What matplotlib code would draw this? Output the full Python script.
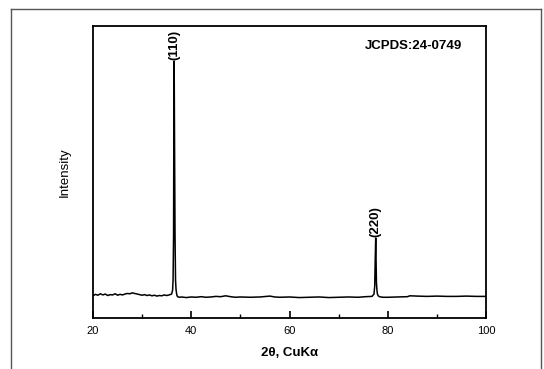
import matplotlib.pyplot as plt
from matplotlib.lines import Line2D
from matplotlib.ticker import MultipleLocator

plt.rcParams["font.family"] = ["Liberation Sans", "DejaVu Sans"]

# XRD trace (2theta in degrees, intensity in arbitrary units)
two_theta = [
    20.0, 20.5, 21.0, 21.5, 22.0, 22.5, 23.0, 23.5, 24.0, 24.5,
    25.0, 25.5, 26.0, 26.5, 27.0, 27.5, 28.0, 28.5, 29.0, 29.5,
    30.0, 30.5, 31.0, 31.5, 32.0, 32.5, 33.0, 33.5, 34.0, 34.5,
    35.0, 35.5, 36.0, 36.2, 36.3, 36.4, 36.45, 36.52, 36.6, 36.7,
    36.8, 36.9, 37.05, 37.2, 37.6, 38.0, 39.0, 40.0, 41.0, 42.0,
    43.0, 44.0, 45.0, 46.0, 47.0, 48.0, 49.0, 50.0, 52.0, 54.0,
    56.0, 57.0, 58.0, 60.0, 62.0, 64.0, 66.0, 68.0, 70.0, 72.0,
    74.0, 75.5, 76.8, 77.2, 77.35, 77.45, 77.55, 77.62, 77.7, 77.8,
    77.9, 78.05, 78.3, 78.7, 79.0, 80.0, 82.0, 84.0, 84.5, 86.0,
    88.0, 90.0, 92.0, 94.0, 96.0, 98.0, 100.0,
]
intensity = [
    7.6, 8.1, 7.8, 8.3, 7.9, 8.2, 7.7, 8.0, 7.9, 8.3,
    7.8, 8.1, 7.9, 8.2, 8.4, 8.3, 8.6, 8.4, 8.2, 8.0,
    7.8, 8.0, 7.7, 7.9, 7.6, 7.8, 7.5, 7.7, 7.6, 7.9,
    7.7, 7.9, 8.2, 9.5, 13.0, 28.0, 62.0, 88.0, 60.0, 28.0,
    13.0, 9.8, 8.0, 7.3, 7.1, 7.2, 7.0, 7.2, 7.1, 7.3,
    7.1, 7.2, 7.4, 7.3, 7.6, 7.3, 7.1, 7.2, 7.1, 7.2,
    7.5, 7.2, 7.1, 7.2, 7.0, 7.1, 7.2, 7.0, 7.1, 7.2,
    7.1, 7.3, 7.4, 8.2, 11.0, 20.0, 27.4, 20.0, 12.0, 9.5,
    8.2, 7.6, 7.3, 7.2, 7.1, 7.1, 7.2, 7.3, 7.6, 7.5,
    7.4, 7.5, 7.4, 7.4, 7.5, 7.4, 7.4,
]

peak_labels = ["(110)", "(220)"]
peak_pos = [36.52, 77.55]
peak_top = [88.0, 27.4]

fig = plt.figure(figsize=(5.44, 3.69), dpi=100)
ax = fig.add_axes([93 / 544, 1 - 318 / 369, 393 / 544, 292 / 369])

ax.plot(two_theta, intensity, color="black", lw=1.1)
ax.set_xlim(20, 100)
ax.set_ylim(0, 100)

for lab, x, y in zip(peak_labels, peak_pos, peak_top):
    ax.text(x, y + 0.5, lab, rotation=90, ha="center", va="bottom",
            fontsize=9.5, fontweight="bold")

ax.text(0.94, 0.93, "JCPDS:24-0749", transform=ax.transAxes, ha="right",
        va="center", fontsize=9.5, fontweight="bold")

ax.xaxis.set_major_locator(MultipleLocator(20))
ax.xaxis.set_minor_locator(MultipleLocator(10))
ax.tick_params(axis="x", which="major", direction="in", length=5, width=1.2,
               labelsize=8, pad=6)
ax.tick_params(axis="x", which="minor", direction="in", length=3, width=1.0)
ax.set_yticks([])
for s in ax.spines.values():
    s.set_linewidth(1.3)

ax.set_xlabel("2θ, CuKα", fontsize=9.5, fontweight="bold", labelpad=8)
ax.set_ylabel("Intensity", fontsize=9.5, labelpad=16)

# outer frame around the figure
frame_kw = dict(color="#555555", lw=1.0, transform=fig.transFigure)
fig.add_artist(Line2D([11 / 544, 11 / 544], [0, 1 - 9 / 369], **frame_kw))
fig.add_artist(Line2D([11 / 544, 541 / 544], [1 - 9 / 369, 1 - 9 / 369], **frame_kw))
fig.add_artist(Line2D([541 / 544, 541 / 544], [0, 1 - 9 / 369], **frame_kw))

fig.savefig("out.png", dpi=100)
